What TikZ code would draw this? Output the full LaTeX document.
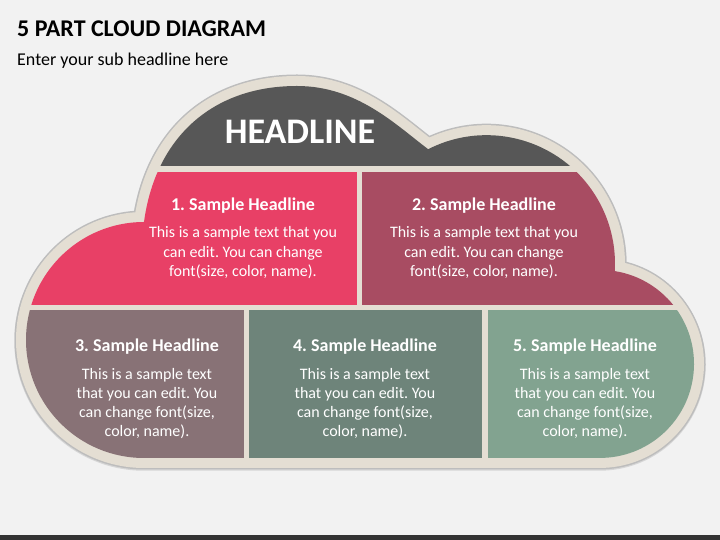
\documentclass[tikz,border=0pt]{standalone}
\usepackage{fontspec}
\setmainfont{Carlito}
\frenchspacing
\definecolor{bgc}{HTML}{F2F2F2}
\definecolor{barc}{HTML}{333333}
\definecolor{beigec}{HTML}{E4DED3}
\definecolor{outlinec}{HTML}{BDBDBD}
\definecolor{shadowc}{HTML}{D6D6D6}
\definecolor{hdc}{HTML}{575757}
\definecolor{pac}{HTML}{E84066}
\definecolor{pbc}{HTML}{A84C62}
\definecolor{pcc}{HTML}{887276}
\definecolor{pdc}{HTML}{6E847A}
\definecolor{pec}{HTML}{82A390}
\begin{document}
\frenchspacing
\begin{tikzpicture}[x=1pt,y=1pt,
  headtxt/.style={text=white,font=\fontsize{18}{21}\selectfont\bfseries,inner sep=0pt,anchor=base},
  bodytxt/.style={text=white,font=\fontsize{16}{19.2}\selectfont,inner sep=0pt,anchor=north,align=center}]
\def\cloudpath{(144,318) .. controls (155,400) and (210,454) .. (297,454) .. controls (357,454) and (396,415) .. (428.16,390.79) arc[start angle=117, end angle=-3.3, radius=128.5pt] arc[start angle=80.95, end angle=-90, radius=94pt] -- (144,82) arc[start angle=-90, end angle=-270, radius=118pt] -- cycle}
\useasboundingbox (0,0) rectangle (720,540);
\fill[bgc] (0,0) rectangle (720,540);
\fill[barc] (0,0) rectangle (720,5);
% cloud frame
\draw[shadowc, line width=23.5pt, line join=round, yshift=-1pt] \cloudpath;
\draw[outlinec, line width=23pt, line join=round] \cloudpath;
\draw[beigec, fill=beigec, line width=20pt, line join=round] \cloudpath;
% panels
\begin{scope}
\clip \cloudpath;
\fill[hdc] (0,374) rectangle (720,540);
\fill[pac] (0,235) rectangle (357,368);
\fill[pbc] (362,235) rectangle (720,368);
\fill[pcc] (0,0) rectangle (244,230);
\fill[pdc] (249,0) rectangle (482,230);
\fill[pec] (488,0) rectangle (720,230);
\end{scope}
% titles
\node[anchor=base west, inner sep=0pt, font=\fontsize{24}{28}\selectfont\bfseries] (title) at (17,503.3) {5 PART CLOUD DIAGRAM};
\node[anchor=base west, inner sep=0pt, font=\fontsize{18}{21}\selectfont] (subtitle) at (17,474.3) {Enter your sub headline here};
\node[anchor=base, inner sep=0pt, text=white, font=\fontsize{36}{40}\selectfont\bfseries] (headline) at (300,396) {HEADLINE};
% panel texts
\node[headtxt] (h1) at (243,329) {1. Sample Headline};
\node[bodytxt] (b1) at (243,316.3) {\rule{0pt}{14pt}This is a sample text that you\\can edit. You can change\\font(size, color, name).};
\node[headtxt] (h2) at (484,329) {2. Sample Headline};
\node[bodytxt] (b2) at (484,316.3) {\rule{0pt}{14pt}This is a sample text that you\\can edit. You can change\\font(size, color, name).};
\node[headtxt] (h3) at (147,188.3) {3. Sample Headline};
\node[bodytxt] (b3) at (147,175) {\rule{0pt}{14pt}This is a sample text\\that you can edit. You\\can change font(size,\\color, name).};
\node[headtxt] (h4) at (365,188.3) {4. Sample Headline};
\node[bodytxt] (b4) at (365,175) {\rule{0pt}{14pt}This is a sample text\\that you can edit. You\\can change font(size,\\color, name).};
\node[headtxt] (h5) at (585,188.3) {5. Sample Headline};
\node[bodytxt] (b5) at (585,175) {\rule{0pt}{14pt}This is a sample text\\that you can edit. You\\can change font(size,\\color, name).};
\end{tikzpicture}
\end{document}
